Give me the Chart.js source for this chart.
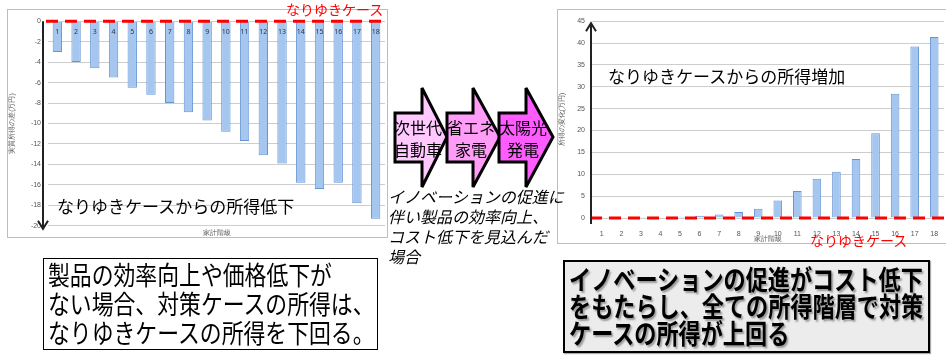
<!DOCTYPE html>
<html>
<head>
<meta charset="utf-8">
<script src="https://cdn.jsdelivr.net/npm/chart.js@4.4.0/dist/chart.umd.min.js"></script>
<style>
  html, body { margin: 0; padding: 0; background: #fff; }
  body { width: 946px; height: 356px; position: relative; overflow: hidden;
         font-family: "Noto Sans CJK JP", "Noto Sans", sans-serif; }
  .abs { position: absolute; white-space: nowrap; }
  .frame { position: absolute; border: 1px solid #bdbdbd; box-sizing: border-box; }
  .frame canvas { display: block; }
  .red { color: #ff0000; }
  .box1 { position: absolute; left: 43px; top: 258px; width: 335px; height: 92px;
          border: 1px solid #000; box-sizing: border-box; background: #fff; }
  .box2 { position: absolute; left: 563px; top: 260px; width: 367px; height: 93px;
          border: 2px solid #000; box-sizing: border-box; background: #ececec;
          box-shadow: 1px 1px 1px #aaa; }
  .cond { display: inline-block; transform-origin: 0 0; }
</style>
</head>
<body>

<div class="frame" style="left:7px;top:9px;width:381px;height:229px;">
  <canvas id="lowChart" width="379" height="227" style="width:379px;height:227px;"></canvas>
</div>
<div class="frame" style="left:557px;top:9px;width:392px;height:235px;">
  <canvas id="upChart" width="390" height="233" style="width:390px;height:233px;"></canvas>
</div>

<div class="abs red" style="left:286px;top:-1px;font-size:14px;">なりゆきケース</div>
<div class="abs" style="left:57px;top:193px;font-size:17px;">なりゆきケースからの所得低下</div>
<div class="abs" style="left:608px;top:63px;font-size:17px;">なりゆきケースからの所得増加</div>
<div class="abs red" style="left:810px;top:230px;font-size:14px;">なりゆきケース</div>

<svg class="abs" style="left:0;top:0;" width="946" height="356">
  <polygon points="395,113 422,113 422,88 447,137 422,187 422,162 395,162" fill="#ffc8ff" stroke="#000" stroke-width="3" stroke-linejoin="miter"/>
  <polygon points="447,113 473,113 473,88 500,137 473,187 473,162 447,162" fill="#ff9cf8" stroke="#000" stroke-width="3" stroke-linejoin="miter"/>
  <polygon points="499,113 526,113 526,88 553,137 526,187 526,162 499,162" fill="#ff5cff" stroke="#000" stroke-width="3" stroke-linejoin="miter"/>
</svg>
<div class="abs" style="left:388px;top:116px;width:60px;text-align:center;font-size:16px;line-height:22px;">次世代<br>自動車</div>
<div class="abs" style="left:441px;top:116px;width:60px;text-align:center;font-size:16px;line-height:22px;">省エネ<br>家電</div>
<div class="abs" style="left:493px;top:116px;width:60px;text-align:center;font-size:16px;line-height:22px;">太陽光<br>発電</div>

<div class="abs" style="left:388px;top:186px;font-size:16px;line-height:20px;font-style:italic;">イノベーションの促進に<br>伴い製品の効率向上、<br>コスト低下を見込んだ<br>場合</div>

<div class="box1">
  <span class="cond" style="transform:scaleX(0.84);font-size:26px;line-height:29px;margin:0 0 0 4px;white-space:nowrap;">製品の効率向上や価格低下が<br>ない場合、対策ケースの所得は、<br>なりゆきケースの所得を下回る。</span>
</div>
<div class="box2">
  <span class="cond" style="transform:scaleX(0.82);font-size:27px;line-height:27px;font-weight:bold;margin:3px 0 0 4px;white-space:nowrap;text-shadow:2px 2px 2px #999;">イノベーションの促進がコスト低下<br>をもたらし、全ての所得階層で対策<br>ケースの所得が上回る</span>
</div>

<script>
// 家計階級 1..18
const classes = ['1','2','3','4','5','6','7','8','9','10','11','12','13','14','15','16','17','18'];

// 製品の効率向上・価格低下なし (なりゆきケースとの差, 万円)
const lowValues = [-3.0, -4.0, -4.6, -5.5, -6.5, -7.2, -8.0, -8.9, -9.7, -10.8, -11.7, -13.1, -13.9, -15.8, -16.4, -15.8, -17.8, -19.3];
const lowTicks = [0, -2, -4, -6, -8, -10, -12, -14, -16, -18, -20];

// イノベーション促進ケース (なりゆきケースとの差, 万円)
const upValues = [0.1, 0.1, 0.15, 0.2, 0.3, 0.5, 0.8, 1.35, 2.1, 4.0, 6.2, 9.0, 10.6, 13.5, 19.4, 28.4, 39.2, 41.4];
const upTicks = [0, 5, 10, 15, 20, 25, 30, 35, 40, 45];

const barFill = '#a4c6ef';
const barLine = '#6594d4';
const gridGray = '#cdcdcd';

// red baseline, black arrow and in-bar labels
const annot = {
    id: 'annot',
    afterDatasetsDraw(chart, args, opts) {
        const { ctx, chartArea, scales: { x, y } } = chart;
        ctx.save();
        // なりゆきケース line at 0
        const y0 = y.getPixelForValue(0);
        ctx.strokeStyle = '#ff0000';
        ctx.lineWidth = 3;
        ctx.setLineDash([12, 7]);
        ctx.beginPath();
        ctx.moveTo(chartArea.left - 2, y0);
        ctx.lineTo(chartArea.right, y0);
        ctx.stroke();
        ctx.setLineDash([]);

        // axis arrow
        const ax = chartArea.left + opts.arrowDx;
        const yFrom = y.getPixelForValue(opts.arrowFrom) + opts.fromPad;
        const yTo = y.getPixelForValue(opts.arrowTo) + opts.toPad;
        const dir = yTo > yFrom ? 1 : -1;
        ctx.strokeStyle = '#222';
        ctx.lineWidth = 2;
        ctx.beginPath();
        ctx.moveTo(ax, yFrom);
        ctx.lineTo(ax, yTo);
        ctx.moveTo(ax - 5, yTo - dir * 8);
        ctx.lineTo(ax, yTo);
        ctx.lineTo(ax + 5, yTo - dir * 8);
        ctx.stroke();

        if (opts.inBarLabels) {
            ctx.fillStyle = '#334';
            ctx.font = '7px "Noto Sans", sans-serif';
            ctx.textAlign = 'center';
            ctx.textBaseline = 'middle';
            classes.forEach((c, i) => {
                ctx.fillText(c, x.getPixelForValue(i), y0 + 11);
            });
        }
        ctx.restore();
    }
};

new Chart(document.getElementById('lowChart'), {
    type: 'bar',
    data: {
        labels: classes,
        datasets: [{
            data: lowValues,
            backgroundColor: barFill,
            borderColor: barLine,
            borderWidth: 1,
            categoryPercentage: 1,
            barPercentage: 0.5
        }]
    },
    options: {
        responsive: false,
        animation: false,
        devicePixelRatio: 1,
        layout: { padding: { top: 11, right: 2, left: 0, bottom: 0 } },
        plugins: {
            legend: { display: false },
            tooltip: { enabled: false },
            annot: { arrowDx: -5, arrowFrom: 0, arrowTo: -20, fromPad: 0, toPad: 3, inBarLabels: true }
        },
        scales: {
            x: {
                grid: { display: false },
                border: { display: false },
                ticks: { display: false },
                title: { display: true, text: '家計階級', font: { size: 7 }, color: '#555', padding: 0 },
                afterFit: s => { s.height = 11; }
            },
            y: {
                min: -20,
                max: 0,
                afterBuildTicks: s => { s.ticks = lowTicks.map(v => ({ value: v })); },
                grid: { color: gridGray, drawTicks: false },
                border: { display: false },
                ticks: { font: { size: 7 }, color: '#555', padding: 7 },
                title: { display: true, text: '実質所得の差(万円)', font: { size: 7 }, color: '#555', padding: 0 },
                afterFit: s => { s.width = 40; }
            }
        }
    },
    plugins: [annot]
});

new Chart(document.getElementById('upChart'), {
    type: 'bar',
    data: {
        labels: classes,
        datasets: [{
            data: upValues,
            backgroundColor: barFill,
            borderColor: barLine,
            borderWidth: 1,
            categoryPercentage: 1,
            barPercentage: 0.44
        }]
    },
    options: {
        responsive: false,
        animation: false,
        devicePixelRatio: 1,
        layout: { padding: { top: 9, right: 4, left: 0, bottom: 0 } },
        plugins: {
            legend: { display: false },
            tooltip: { enabled: false },
            annot: { arrowDx: -1, arrowFrom: 0, arrowTo: 45, fromPad: 6, toPad: 2, inBarLabels: false }
        },
        scales: {
            x: {
                grid: { display: false },
                border: { display: false },
                ticks: { font: { size: 7 }, color: '#555', padding: 4 },
                title: { display: true, text: '家計階級', font: { size: 7 }, color: '#555', padding: 0 },
                afterFit: s => { s.height = 25; }
            },
            y: {
                min: 0,
                max: 45,
                afterBuildTicks: s => { s.ticks = upTicks.map(v => ({ value: v })); },
                grid: { color: gridGray, drawTicks: false },
                border: { display: false },
                ticks: { font: { size: 7 }, color: '#555', padding: 7 },
                title: { display: true, text: '所得の変化(万円)', font: { size: 7 }, color: '#555', padding: 0 },
                afterFit: s => { s.width = 34; }
            }
        }
    },
    plugins: [annot]
});
</script>
</body>
</html>
